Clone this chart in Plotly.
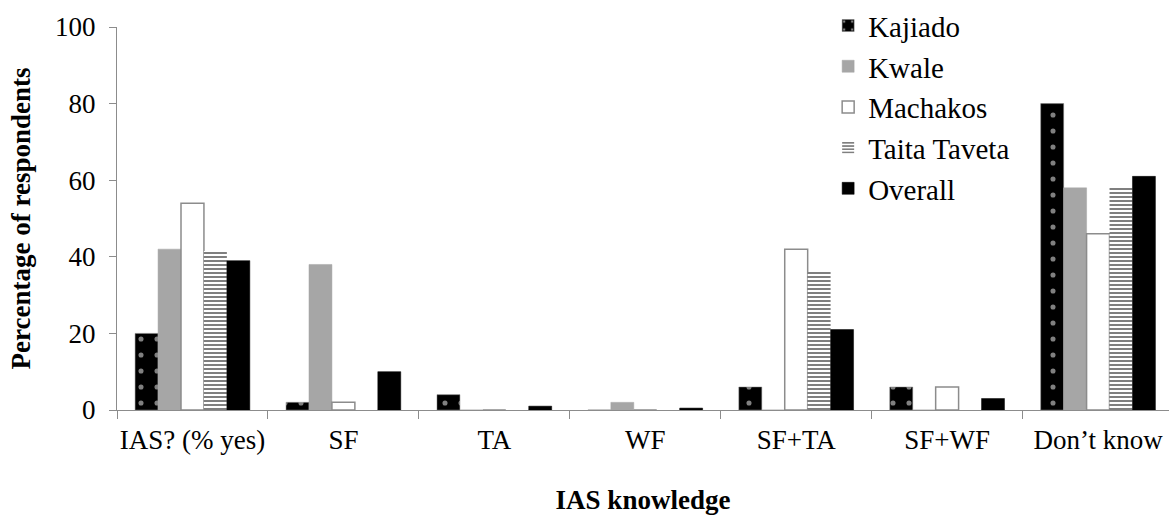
import plotly.graph_objects as go

categories = ["IAS? (% yes)", "SF", "TA", "WF", "SF+TA", "SF+WF", "Don\u2019t know"]
kajiado = [20, 2, 4, 0, 6, 6, 80]
kwale = [42, 38, 0, 2, 0, 0, 58]
machakos = [54, 2, 0, 0, 42, 6, 46]
taita = [41.5, 0, 0, 0, 36, 0, 58]
overall = [39, 10, 1, 0.5, 21, 3, 61]

font = "Times New Roman, Liberation Serif, serif"

fig = go.Figure()
fig.add_trace(go.Bar(name="Kajiado", x=categories, y=kajiado,
                     marker=dict(color="black", line=dict(color="#7f7f7f", width=0.5),
                                 pattern=dict(shape=".", fgcolor="white", bgcolor="black",
                                              size=16, solidity=0.08, fillmode="overlay"))))
fig.add_trace(go.Bar(name="Kwale", x=categories, y=kwale,
                     marker=dict(color="#a6a6a6", line=dict(color="#a6a6a6", width=0.5))))
fig.add_trace(go.Bar(name="Machakos", x=categories, y=machakos,
                     marker=dict(color="white", line=dict(color="#8c8c8c", width=1.5))))
fig.add_trace(go.Bar(name="Taita Taveta", x=categories, y=taita,
                     marker=dict(color="white", line=dict(color="white", width=0),
                                 pattern=dict(shape="-", fgcolor="black", bgcolor="white",
                                              size=4, solidity=0.5))))
fig.add_trace(go.Bar(name="Overall", x=categories, y=overall,
                     marker=dict(color="black", line=dict(color="black", width=0.5))))

fig.update_layout(
    width=1169, height=515,
    margin=dict(l=117, r=0, t=27, b=105, autoexpand=False),
    paper_bgcolor="white", plot_bgcolor="white",
    barmode="group", bargap=0.24, bargroupgap=0,
    font=dict(family=font, size=27, color="black"),
    legend=dict(x=0.676, y=1.07, xanchor="left", yanchor="top",
                font=dict(family=font, size=29, color="black"),
                tracegroupgap=0, itemwidth=30, bgcolor="rgba(0,0,0,0)"),
    xaxis=dict(range=[-0.5, 6.47], showline=True, linecolor="#8c8c8c", linewidth=1,
               ticks="outside", tickson="boundaries", ticklen=8, tickcolor="#8c8c8c",
               tickangle=0, automargin=False, ticklabelstandoff=6,
               tickfont=dict(family=font, size=27),
               title=dict(text="<b>IAS knowledge</b>", font=dict(family=font, size=27), standoff=38)),
    yaxis=dict(range=[0, 100], dtick=20, showline=True, linecolor="#8c8c8c", linewidth=1,
               ticks="outside", ticklen=7, tickcolor="#8c8c8c", showgrid=False, zeroline=False,
               ticklabelstandoff=8, automargin=False,
               tickfont=dict(family=font, size=27),
               title=dict(text="<b>Percentage of respondents</b>", font=dict(family=font, size=27), standoff=16)),
)

fig.write_html("out.html")
